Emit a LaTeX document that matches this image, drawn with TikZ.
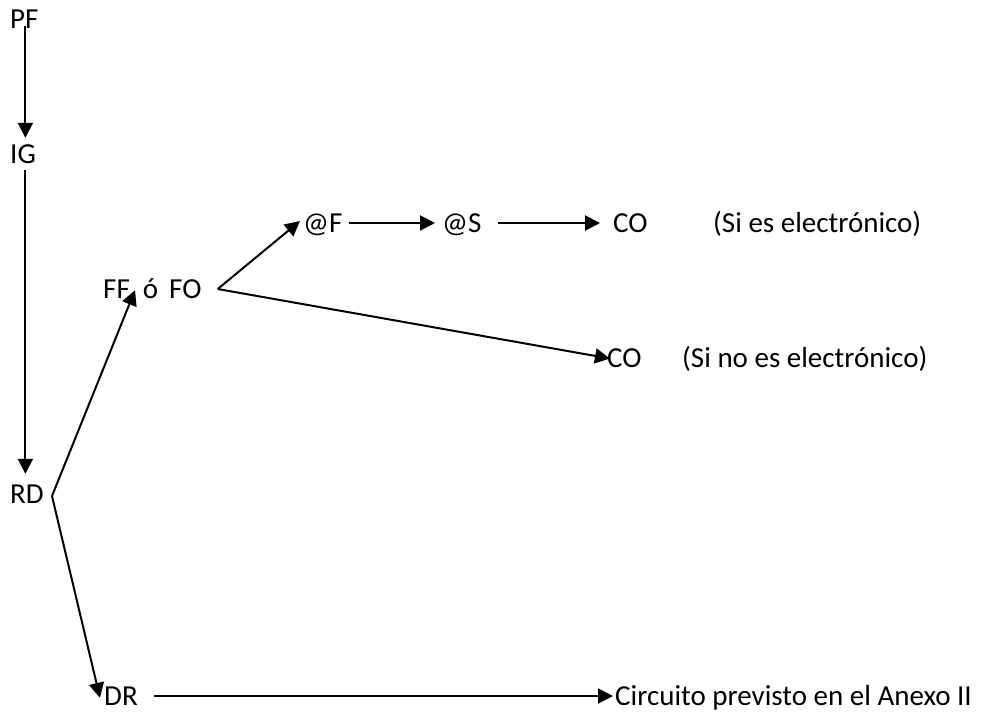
\documentclass[tikz,border=0pt]{standalone}
\usepackage{fontspec}
\setmainfont{Carlito}
\usetikzlibrary{arrows.meta}
\begin{document}
\begin{tikzpicture}[x=1pt,y=-1pt,
  lbl/.style={anchor=base west,inner sep=0pt,text height=18pt,text depth=0pt,
    font=\fontsize{29}{34}\selectfont},
  link/.style={line width=2pt,-{Triangle[length=15pt,width=15pt]}}]
\useasboundingbox (0,0) rectangle (984,716);

% texts
\node[lbl] (pf)   at (10,28)  {PF};
\node[lbl] (ig)   at (10,163) {IG};
\node[lbl] (rd)   at (10,503) {RD};
\node[lbl] (ff)   at (103,298) {FF\ \ ó\hspace{11pt}FO};
\node[lbl] (af)   at (303,232) {@F};
\node[lbl] (as)   at (442,232) {@S};
\node[lbl] (co1)  at (613,232) {CO};
\node[lbl] (si1)  at (713,232) {(Si es electrónico)};
\node[lbl] (co2)  at (607,367) {CO};
\node[lbl] (si2)  at (682,367) {(Si no es electrónico)};
\node[lbl] (dr)   at (104,705) {DR};
\node[lbl] (circ) at (615,705) {Circuito previsto en el Anexo II};

% branching points
\coordinate (rdv) at ([xshift=8pt,yshift=-2pt]rd.east);
\coordinate (ffv) at ([xshift=16pt]ff.east);

% vertical chain
\draw[link,shorten <=-2pt,shorten >=7pt]
  ([xshift=1pt]pf.south) -- ([xshift=1pt]pf.south |- ig.north);
\draw[link,shorten <=7pt,shorten >=11pt]
  ([xshift=1pt]pf.south |- ig.south) -- ([xshift=1pt]pf.south |- rd.north);

% from RD
\draw[link] (rdv) -- ([xshift=32pt,yshift=8pt]ff.south west);
\draw[link] (rdv) -- ([xshift=-4pt,yshift=-11pt]dr.north west);

% from FF / FO
\draw[link] (ffv) -- ([xshift=-3pt,yshift=2pt]af.west);
\draw[link,shorten >=-3pt] (ffv) -- (co2.west);

% electronic path
\draw[link,shorten <=6pt,shorten >=7pt] (af.east) -- (as.west);
\draw[link,shorten <=16pt,shorten >=13pt] (as.east) -- (co1.west);

% DR to the circuit
\draw[link,shorten <=16pt,shorten >=2pt] (dr.east) -- (circ.west);
\end{tikzpicture}
\end{document}
